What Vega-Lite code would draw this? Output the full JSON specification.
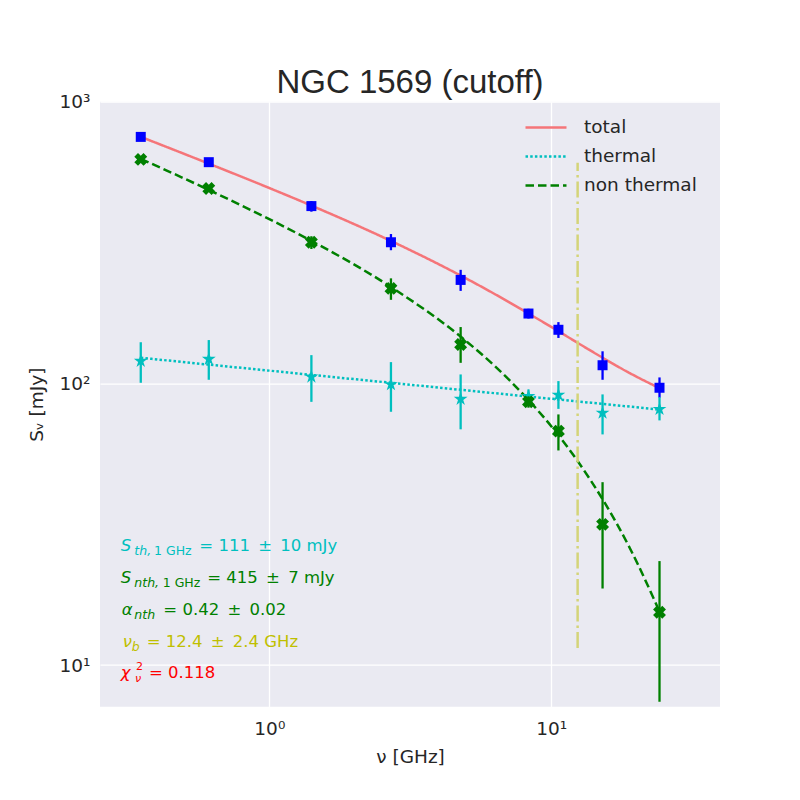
{
  "$schema": "https://vega.github.io/schema/vega-lite/v6.json",
  "width": 620,
  "height": 605,
  "autosize": {"type": "none"},
  "padding": {"left": 100, "top": 101.7, "right": 80, "bottom": 93.3},
  "background": "white",
  "title": {"text": "NGC 1569 (cutoff)", "font": "Liberation Sans", "fontSize": 33, "fontWeight": "normal", "color": "#262626", "anchor": "middle", "baseline": "alphabetic", "offset": 10, "dy": 43},
  "config": {
    "view": {"fill": "#EAEAF2", "stroke": null},
    "axis": {"domain": false, "ticks": false, "grid": true, "gridColor": "#FFFFFF", "gridWidth": 1.3, "gridOpacity": 1, "labelFont": "DejaVu Sans", "labelFontSize": 18.5, "labelColor": "#262626", "titleFont": "DejaVu Sans", "titleFontSize": 18.5, "titleColor": "#262626", "titleFontWeight": "normal", "labelPadding": 10, "labelFlush": false},
    "legend": {"orient": "none", "legendX": 424, "legendY": 12.5, "padding": 0, "symbolType": "stroke", "symbolSize": 1681, "symbolStrokeWidth": 2.5, "labelFont": "DejaVu Sans", "labelFontSize": 18.5, "labelColor": "#262626", "labelOffset": 16, "clipHeight": 26.5, "rowPadding": 2}
  },
  "datasets": {
    "obs": [
      {"series": "total", "nu": 0.35, "s": 750, "lo": 735, "hi": 765},
      {"series": "total", "nu": 0.61, "s": 610, "lo": 598, "hi": 622},
      {"series": "total", "nu": 1.41, "s": 426, "lo": 407, "hi": 444},
      {"series": "total", "nu": 2.7, "s": 317, "lo": 297, "hi": 339},
      {"series": "total", "nu": 4.77, "s": 233, "lo": 213, "hi": 253},
      {"series": "total", "nu": 8.3, "s": 177, "lo": 170, "hi": 184},
      {"series": "total", "nu": 10.6, "s": 155, "lo": 145, "hi": 165},
      {"series": "total", "nu": 15.2, "s": 116, "lo": 103, "hi": 130},
      {"series": "total", "nu": 24.2, "s": 96.5, "lo": 89, "hi": 105},
      {"series": "thermal", "nu": 0.35, "s": 120, "lo": 100.5, "hi": 140},
      {"series": "thermal", "nu": 0.61, "s": 122, "lo": 103, "hi": 142.5},
      {"series": "thermal", "nu": 1.41, "s": 105.5, "lo": 86, "hi": 126},
      {"series": "thermal", "nu": 2.7, "s": 99.2, "lo": 79.3, "hi": 119},
      {"series": "thermal", "nu": 4.77, "s": 88, "lo": 68.7, "hi": 107.6},
      {"series": "thermal", "nu": 8.3, "s": 90, "lo": 84.8, "hi": 95.2},
      {"series": "thermal", "nu": 10.6, "s": 91, "lo": 81.2, "hi": 101.9},
      {"series": "thermal", "nu": 15.2, "s": 78.5, "lo": 65.9, "hi": 91.4},
      {"series": "thermal", "nu": 24.2, "s": 81, "lo": 73.9, "hi": 89.4},
      {"series": "non thermal", "nu": 0.35, "s": 624, "lo": 612, "hi": 636},
      {"series": "non thermal", "nu": 0.61, "s": 492, "lo": 482, "hi": 502},
      {"series": "non thermal", "nu": 1.41, "s": 317, "lo": 300, "hi": 333},
      {"series": "non thermal", "nu": 2.7, "s": 217.4, "lo": 198, "hi": 236},
      {"series": "non thermal", "nu": 4.77, "s": 137.5, "lo": 118.3, "hi": 158.5},
      {"series": "non thermal", "nu": 8.3, "s": 86, "lo": 82, "hi": 90},
      {"series": "non thermal", "nu": 10.6, "s": 67.7, "lo": 57.8, "hi": 77.6},
      {"series": "non thermal", "nu": 15.2, "s": 31.6, "lo": 18.7, "hi": 44.6},
      {"series": "non thermal", "nu": 24.2, "s": 15.4, "lo": 7.41, "hi": 23.4}
    ],
    "model": [
      {"component": "total", "nu": 0.35, "s": 750.3},
      {"component": "total", "nu": 0.61, "s": 602.8},
      {"component": "total", "nu": 1.0, "s": 493.8},
      {"component": "total", "nu": 1.41, "s": 427.8},
      {"component": "total", "nu": 2.7, "s": 320.4},
      {"component": "total", "nu": 4.77, "s": 241.5},
      {"component": "total", "nu": 6.3, "s": 207.6},
      {"component": "total", "nu": 8.3, "s": 177.1},
      {"component": "total", "nu": 10.6, "s": 153.2},
      {"component": "total", "nu": 12.4, "s": 139.3},
      {"component": "total", "nu": 15.2, "s": 123.4},
      {"component": "total", "nu": 19.0, "s": 108.7},
      {"component": "total", "nu": 24.2, "s": 96.2},
      {"component": "thermal", "nu": 0.35, "s": 123.3},
      {"component": "thermal", "nu": 0.61, "s": 116.6},
      {"component": "thermal", "nu": 1.0, "s": 111.0},
      {"component": "thermal", "nu": 1.41, "s": 107.2},
      {"component": "thermal", "nu": 2.7, "s": 100.5},
      {"component": "thermal", "nu": 4.77, "s": 94.9},
      {"component": "thermal", "nu": 6.3, "s": 92.3},
      {"component": "thermal", "nu": 8.3, "s": 89.8},
      {"component": "thermal", "nu": 10.6, "s": 87.7},
      {"component": "thermal", "nu": 12.4, "s": 86.3},
      {"component": "thermal", "nu": 15.2, "s": 84.6},
      {"component": "thermal", "nu": 19.0, "s": 82.7},
      {"component": "thermal", "nu": 24.2, "s": 80.7},
      {"component": "non thermal", "nu": 0.35, "s": 627.0},
      {"component": "non thermal", "nu": 0.61, "s": 486.2},
      {"component": "non thermal", "nu": 1.0, "s": 382.8},
      {"component": "non thermal", "nu": 1.41, "s": 320.6},
      {"component": "non thermal", "nu": 2.7, "s": 219.9},
      {"component": "non thermal", "nu": 4.77, "s": 146.6},
      {"component": "non thermal", "nu": 6.3, "s": 115.3},
      {"component": "non thermal", "nu": 8.3, "s": 87.3},
      {"component": "non thermal", "nu": 10.6, "s": 65.5},
      {"component": "non thermal", "nu": 12.4, "s": 53.0},
      {"component": "non thermal", "nu": 15.2, "s": 38.8},
      {"component": "non thermal", "nu": 19.0, "s": 26.0},
      {"component": "non thermal", "nu": 24.2, "s": 15.5}
    ],
    "vline": [{"nu": 12.4, "s": 11.5, "s2": 607}],
    "ann": [
      {"line": "th", "kind": "it", "text": "S", "nu": 0.2972, "s": 26.45},
      {"line": "th", "kind": "subit", "text": "th,", "nu": 0.3321, "s": 26.45},
      {"line": "th", "kind": "subrm", "text": "1 GHz", "nu": 0.3901, "s": 26.45},
      {"line": "th", "kind": "rm", "text": "= 111\u2002±\u200210 mJy", "nu": 0.5646, "s": 26.45},
      {"line": "nth", "kind": "it", "text": "S", "nu": 0.2972, "s": 20.41},
      {"line": "nth", "kind": "subit", "text": "nth,", "nu": 0.3321, "s": 20.41},
      {"line": "nth", "kind": "subrm", "text": "1 GHz", "nu": 0.4188, "s": 20.41},
      {"line": "nth", "kind": "rm", "text": "= 415\u2002±\u20027 mJy", "nu": 0.6026, "s": 20.41},
      {"line": "alpha", "kind": "it", "text": "α", "nu": 0.2996, "s": 15.67},
      {"line": "alpha", "kind": "subit", "text": "nth", "nu": 0.3321, "s": 15.67},
      {"line": "alpha", "kind": "rm", "text": "= 0.42\u2002±\u20020.02", "nu": 0.4209, "s": 15.67},
      {"line": "nub", "kind": "it", "text": "ν", "nu": 0.302, "s": 12.1},
      {"line": "nub", "kind": "subit", "text": "b", "nu": 0.3251, "s": 12.1},
      {"line": "nub", "kind": "rm", "text": "= 12.4\u2002±\u20022.4 GHz", "nu": 0.3674, "s": 12.1},
      {"line": "chi", "kind": "it", "text": "χ", "nu": 0.2972, "s": 9.39},
      {"line": "chi", "kind": "sup", "text": "2", "nu": 0.3368, "s": 9.39},
      {"line": "chi", "kind": "subnu", "text": "ν", "nu": 0.3341, "s": 9.39},
      {"line": "chi", "kind": "rm", "text": "= 0.118", "nu": 0.3745, "s": 9.39}
    ]
  },
  "layer": [
    {
      "data": {"name": "model"},
      "mark": {"type": "line", "strokeWidth": 2.5, "interpolate": "monotone", "strokeCap": "butt"},
      "encoding": {
        "x": {"field": "nu", "type": "quantitative", "scale": {"type": "log", "domain": [0.2509, 39.66], "nice": false}, "axis": {"title": "ν [GHz]", "values": [1, 10], "labelExpr": "datum.value == 1 ? '10⁰' : '10¹'", "labelPadding": 13, "titlePadding": 9}},
        "y": {"field": "s", "type": "quantitative", "scale": {"type": "log", "domain": [7.117, 1000], "nice": false}, "axis": {"title": "Sᵥ [mJy]", "values": [10, 100, 1000], "labelExpr": "datum.value == 10 ? '10¹' : datum.value == 100 ? '10²' : '10³'", "titlePadding": 13}},
        "color": {"field": "component", "type": "nominal", "scale": {"domain": ["total", "thermal", "non thermal"], "range": ["#F57579", "#00BFBF", "#008000"]}, "legend": {"title": null}},
        "strokeDash": {"field": "component", "type": "nominal", "scale": {"domain": ["total", "thermal", "non thermal"], "range": [[1, 0], [2.5, 2.2], [8.5, 4]]}, "legend": {"title": null}}
      }
    },
    {
      "data": {"name": "vline"},
      "mark": {"type": "rule", "color": "#D4D479", "strokeWidth": 2.5, "strokeDash": [16, 4, 2.5, 4]},
      "encoding": {
        "x": {"field": "nu", "type": "quantitative"},
        "y": {"field": "s", "type": "quantitative"},
        "y2": {"field": "s2"}
      }
    },
    {
      "data": {"name": "obs"},
      "transform": [{"filter": "datum.series == 'total'"}],
      "mark": {"type": "rule", "color": "#0000FF", "strokeWidth": 2.3},
      "encoding": {"x": {"field": "nu", "type": "quantitative"}, "y": {"field": "lo", "type": "quantitative"}, "y2": {"field": "hi"}}
    },
    {
      "data": {"name": "obs"},
      "transform": [{"filter": "datum.series == 'total'"}],
      "mark": {"type": "square", "color": "#0000FF", "size": 100, "opacity": 1},
      "encoding": {"x": {"field": "nu", "type": "quantitative"}, "y": {"field": "s", "type": "quantitative"}}
    },
    {
      "data": {"name": "obs"},
      "transform": [{"filter": "datum.series == 'thermal'"}],
      "mark": {"type": "rule", "color": "#00BFBF", "strokeWidth": 2.3},
      "encoding": {"x": {"field": "nu", "type": "quantitative"}, "y": {"field": "lo", "type": "quantitative"}, "y2": {"field": "hi"}}
    },
    {
      "data": {"name": "obs"},
      "transform": [{"filter": "datum.series == 'thermal'"}],
      "mark": {"type": "point", "shape": "M0,-1L0.2245,-0.309L0.9511,-0.309L0.3633,0.118L0.5878,0.809L0,0.382L-0.5878,0.809L-0.3633,0.118L-0.9511,-0.309L-0.2245,-0.309Z", "filled": true, "color": "#00BFBF", "size": 210, "opacity": 1},
      "encoding": {"x": {"field": "nu", "type": "quantitative"}, "y": {"field": "s", "type": "quantitative"}}
    },
    {
      "data": {"name": "obs"},
      "transform": [{"filter": "datum.series == 'non thermal'"}],
      "mark": {"type": "rule", "color": "#008000", "strokeWidth": 2.3},
      "encoding": {"x": {"field": "nu", "type": "quantitative"}, "y": {"field": "lo", "type": "quantitative"}, "y2": {"field": "hi"}}
    },
    {
      "data": {"name": "obs"},
      "transform": [{"filter": "datum.series == 'non thermal'"}],
      "mark": {"type": "point", "shape": "cross", "angle": 45, "filled": true, "color": "#008000", "size": 170, "opacity": 1},
      "encoding": {"x": {"field": "nu", "type": "quantitative"}, "y": {"field": "s", "type": "quantitative"}}
    },
    {
      "data": {"name": "ann"},
      "transform": [{"filter": "datum.kind == 'it'"}],
      "mark": {"type": "text", "align": "left", "baseline": "middle", "font": "DejaVu Sans", "fontStyle": "italic", "fontSize": 16.5},
      "encoding": {"x": {"field": "nu", "type": "quantitative"}, "y": {"field": "s", "type": "quantitative"}, "text": {"field": "text"},
        "fill": {"field": "line", "type": "nominal", "scale": {"domain": ["th", "nth", "alpha", "nub", "chi"], "range": ["#00BFBF", "#008000", "#008000", "#BFBF00", "#FF0000"]}, "legend": null}}
    },
    {
      "data": {"name": "ann"},
      "transform": [{"filter": "datum.kind == 'subit'"}],
      "mark": {"type": "text", "align": "left", "baseline": "middle", "font": "DejaVu Sans", "fontStyle": "italic", "fontSize": 12.5, "dy": 5},
      "encoding": {"x": {"field": "nu", "type": "quantitative"}, "y": {"field": "s", "type": "quantitative"}, "text": {"field": "text"},
        "fill": {"field": "line", "type": "nominal", "legend": null}}
    },
    {
      "data": {"name": "ann"},
      "transform": [{"filter": "datum.kind == 'subrm'"}],
      "mark": {"type": "text", "align": "left", "baseline": "middle", "font": "DejaVu Sans", "fontSize": 12.5, "dy": 5},
      "encoding": {"x": {"field": "nu", "type": "quantitative"}, "y": {"field": "s", "type": "quantitative"}, "text": {"field": "text"},
        "fill": {"field": "line", "type": "nominal", "legend": null}}
    },
    {
      "data": {"name": "ann"},
      "transform": [{"filter": "datum.kind == 'subnu'"}],
      "mark": {"type": "text", "align": "left", "baseline": "middle", "font": "DejaVu Sans", "fontStyle": "italic", "fontSize": 11, "dy": 6.5},
      "encoding": {"x": {"field": "nu", "type": "quantitative"}, "y": {"field": "s", "type": "quantitative"}, "text": {"field": "text"},
        "fill": {"field": "line", "type": "nominal", "legend": null}}
    },
    {
      "data": {"name": "ann"},
      "transform": [{"filter": "datum.kind == 'sup'"}],
      "mark": {"type": "text", "align": "left", "baseline": "middle", "font": "DejaVu Sans", "fontSize": 11, "dy": -5.5},
      "encoding": {"x": {"field": "nu", "type": "quantitative"}, "y": {"field": "s", "type": "quantitative"}, "text": {"field": "text"},
        "fill": {"field": "line", "type": "nominal", "legend": null}}
    },
    {
      "data": {"name": "ann"},
      "transform": [{"filter": "datum.kind == 'rm'"}],
      "mark": {"type": "text", "align": "left", "baseline": "middle", "font": "DejaVu Sans", "fontSize": 16.5},
      "encoding": {"x": {"field": "nu", "type": "quantitative"}, "y": {"field": "s", "type": "quantitative"}, "text": {"field": "text"},
        "fill": {"field": "line", "type": "nominal", "legend": null}}
    }
  ]
}
